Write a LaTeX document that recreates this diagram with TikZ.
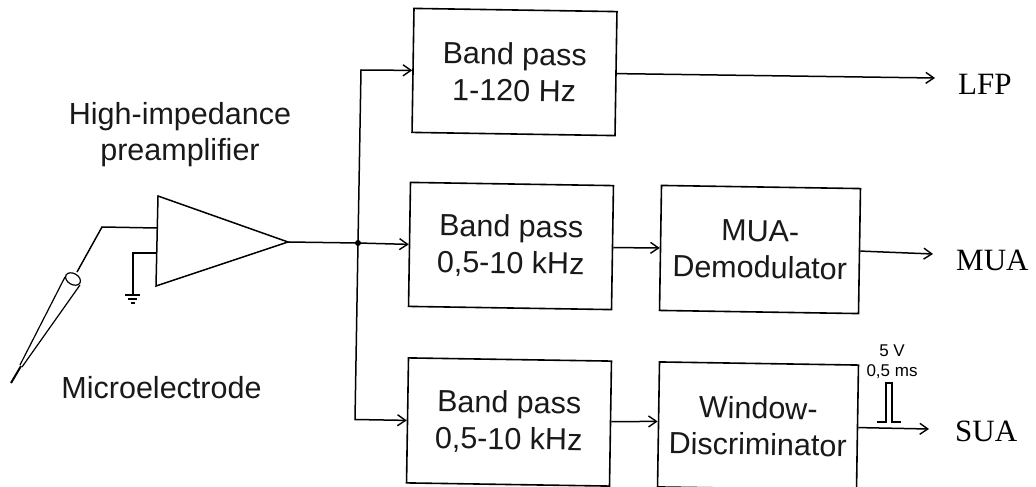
\documentclass[tikz,border=0pt]{standalone}
\usepackage{fontspec}
\setmainfont{Liberation Sans}
\newfontfamily\serifout{Liberation Serif}
\usetikzlibrary{arrows.meta}
\tikzset{
  blockbox/.style={draw=black,line width=1.6pt,fill=white,inner sep=0pt,rotate=-0.9,align=center,font=\fontsize{30.5}{36.5}\selectfont,text=black!90},
  wire/.style={draw=black,line width=1.5pt,line join=miter},
  flow/.style={wire,-{Straight Barb[length=8pt,width=11pt,line width=1.4pt]}},
  outlabel/.style={font=\serifout\fontsize{31}{36}\selectfont,anchor=base west,inner sep=0pt,text=black},
  caption/.style={font=\fontsize{30.5}{36}\selectfont,align=center,text=black!90},
  smalltext/.style={font=\fontsize{17}{20}\selectfont,align=center,text=black}
}
\begin{document}
\begin{tikzpicture}[x=1pt,y=-1pt]
\useasboundingbox (0,0) rectangle (1036,487);
\clip (0,0) rectangle (1036,487);
\node[blockbox,minimum width=203pt,minimum height=124pt] (bp1) at (514.5,72) {Band pass\\1-120 Hz};
\node[blockbox,minimum width=203pt,minimum height=124pt] (bp2) at (511,246) {Band pass\\0,5-10 kHz};
\node[blockbox,minimum width=203pt,minimum height=125pt] (bp3) at (509,422) {Band pass\\0,5-10 kHz};
\node[blockbox,minimum width=199pt,minimum height=125pt] (mua) at (760,249.5) {MUA-\\Demodulator};
\node[blockbox,minimum width=199pt,minimum height=125pt] (win) at (758,426) {Window-\\Discriminator};
% amplifier
\coordinate (ampT) at (158,196);
\coordinate (ampB) at (156,286);
\coordinate (ampO) at (288,242);
\draw[wire,line join=miter] (ampT) -- (ampO) -- (ampB) -- cycle;
\coordinate (junc) at (358,243);
\draw[wire] (ampO) -- (junc);
\fill[black] (junc) circle (3pt);
\coordinate (up) at (361,70);
\coordinate (down) at (355,419.5);
\draw[flow] (junc) -- (bp2.west);
\draw[flow] (junc) -- (up) -- (bp1.west);
\draw[flow] (junc) -- (down) -- (bp3.west);
\coordinate (lfpEnd) at (935,78);
\coordinate (muaEnd) at (933,254);
\coordinate (suaEnd) at (929,429);
\draw[flow] (bp1.east) -- (lfpEnd);
\draw[flow] (bp2.east) -- (mua.west);
\draw[flow] ([yshift=2pt]bp3.east) -- ([yshift=3pt]win.west);
\draw[flow] (mua.east) -- (muaEnd);
\draw[flow] (win.east) -- (suaEnd);
\node[outlabel] (lfp) at (958,95) {LFP};
\node[outlabel] (muaL) at (956,270) {MUA};
\node[outlabel] (sua) at (955,441) {SUA};
% electrode
\coordinate (elbow) at (102,227);
\coordinate (inA) at (157,228);
\coordinate (capT) at (77,272);
\draw[wire] (capT) -- (elbow) -- (inA);
\draw[wire,line width=1.2pt] (73,279) ellipse [x radius=8pt,y radius=5.5pt,rotate=-30];
\draw[wire,line width=1.2pt] (65,277) -- (20,365);
\draw[wire,line width=1.2pt] (80,285) -- (22,367);
\coordinate (tip) at (11,383);
\draw[wire,line width=2pt] (21,366) -- (tip);
% ground
\coordinate (inB) at (156,253);
\coordinate (gnd) at (133,253);
\coordinate (gndB) at (133,295);
\draw[wire] (inB) -- (gnd) -- (gndB);
\draw[wire,line width=1.2pt] (125,295) -- (140,295) (128,299) -- (137,299) (131,303) -- (135,303);
% pulse
\coordinate (p1) at (877,422);
\coordinate (p2) at (886,422);
\coordinate (p3) at (886,383);
\coordinate (p4) at (892,383);
\coordinate (p5) at (892,422);
\coordinate (p6) at (901,422);
\draw[wire,line width=1.3pt] (p1) -- (p2) -- (p3) -- (p4) -- (p5) -- (p6);
\node[smalltext] (pulse) at (892,362) {5 V\\0,5 ms};
\node[caption] (pre) at (180,135) {High-impedance\\preamplifier};
\node[caption] (micro) at (161.5,388) {Microelectrode};
\end{tikzpicture}
\end{document}
